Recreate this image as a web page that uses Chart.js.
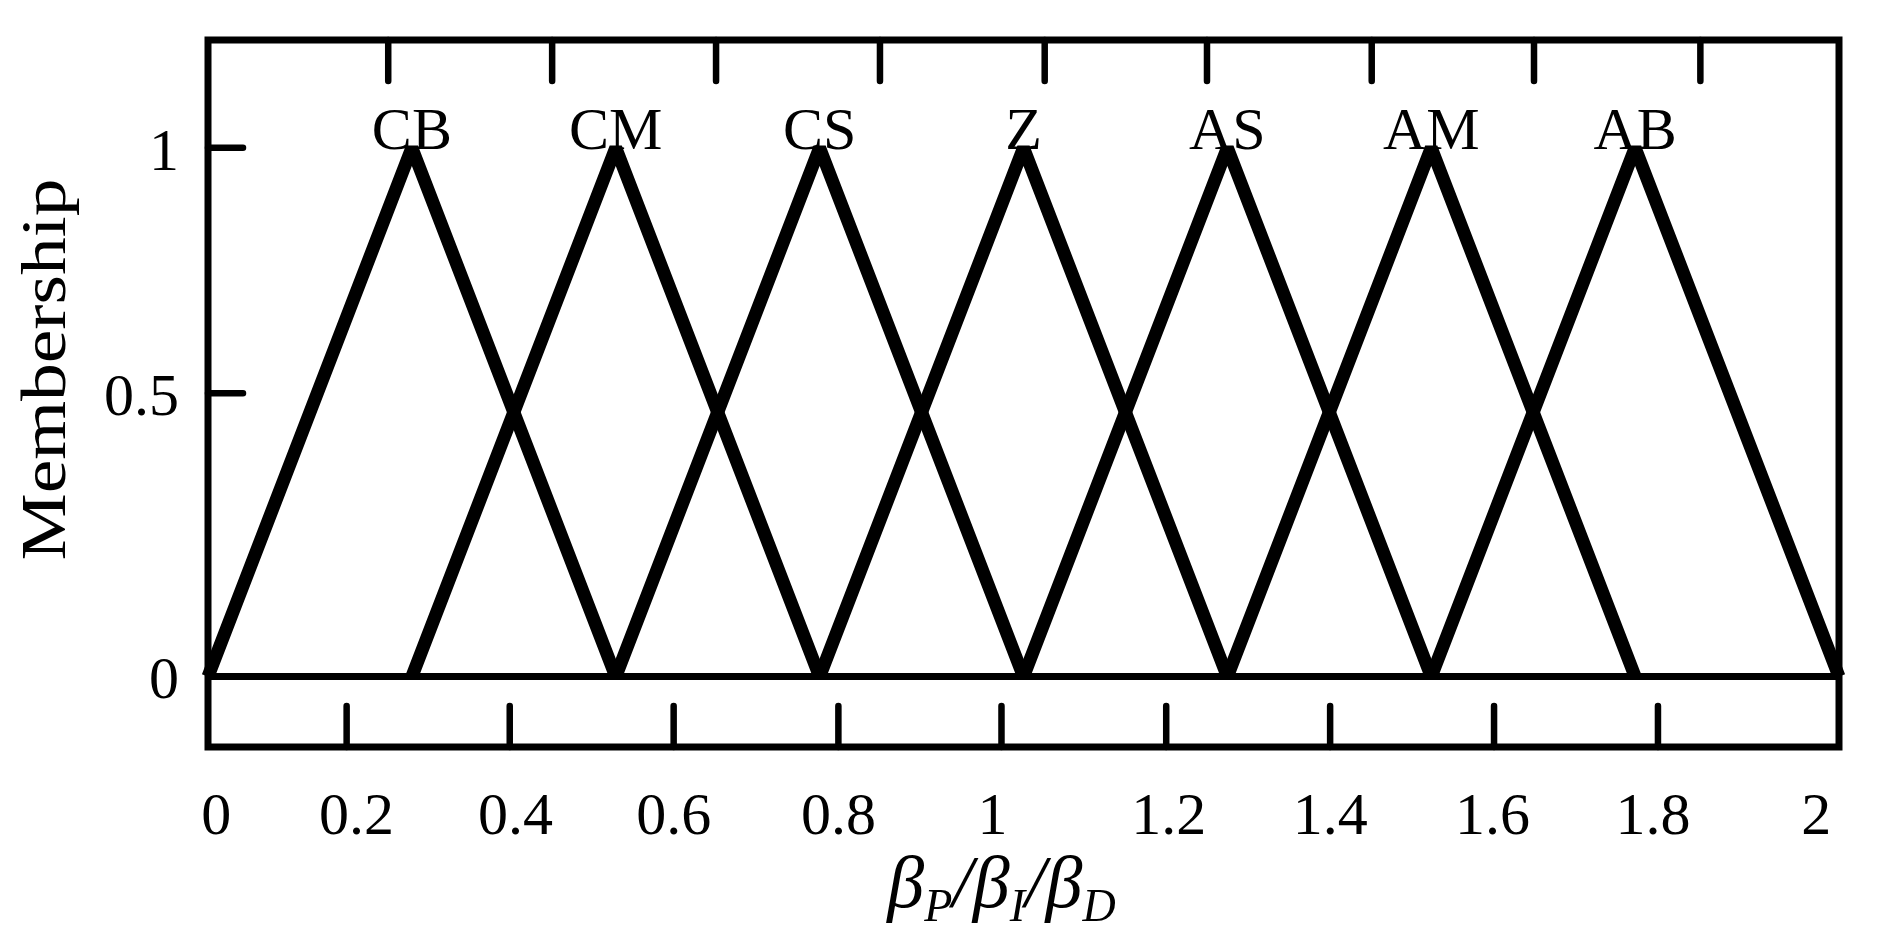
<!DOCTYPE html>
<html>
<head>
<meta charset="utf-8">
<script src="https://cdn.jsdelivr.net/npm/chart.js@4.4.0/dist/chart.umd.min.js"></script>
<style>
html,body{margin:0;padding:0;background:#fff;}
#c{display:block;}
</style>
</head>
<body>
<canvas id="c" width="1887" height="942" style="width:1887px;height:942px"></canvas>
<script>
// ---- data ----
const setNames  = ['CB', 'CM', 'CS', 'Z', 'AS', 'AM', 'AB'];
const setLeft   = [0.00, 0.25, 0.50, 0.75, 1.00, 1.25, 1.50];
const setPeak   = [0.25, 0.50, 0.75, 1.00, 1.25, 1.50, 1.75];
const setRight  = [0.50, 0.75, 1.00, 1.25, 1.50, 1.75, 2.00];
const peakMembership = [1, 1, 1, 1, 1, 1, 1];

const xRange = [0, 2];
const yRange = [-0.133, 1.204];

const xTickLabels      = ['0', '0.2', '0.4', '0.6', '0.8', '1', '1.2', '1.4', '1.6', '1.8', '2'];
const xLabelPositions  = [0.010, 0.182, 0.377, 0.571, 0.773, 0.962, 1.178, 1.376, 1.575, 1.772, 1.972];
const xBottomTickMarks = [0.170, 0.370, 0.571, 0.773, 0.973, 1.175, 1.376, 1.577, 1.778];
const xTopTickMarks    = [0.221, 0.422, 0.623, 0.824, 1.026, 1.225, 1.427, 1.626, 1.830];

const yTickLabels    = ['0', '0.5', '1'];
const yTickPositions = [0, 0.536, 1];
const yTickMarks     = [0.536, 1];

const yTitle = 'Membership';
const xTitleParts = [['β', 'P'], ['β', 'I'], ['β', 'D']];

// ---- chart ----
const SERIF = '"Liberation Serif", "Times New Roman", serif';

const datasets = setNames.map((name, i) => ({
  label: name,
  data: [
    { x: setLeft[i],  y: 0 },
    { x: setPeak[i],  y: peakMembership[i] },
    { x: setRight[i], y: 0 }
  ],
  showLine: true,
  borderColor: '#000',
  backgroundColor: '#000',
  borderWidth: 13,
  pointRadius: 0,
  pointHoverRadius: 0,
  fill: false,
  tension: 0,
  clip: false,
  borderJoinStyle: 'bevel',
  borderCapStyle: 'butt'
}));

const decorPlugin = {
  id: 'decor',
  afterDraw(chart) {
    const ctx = chart.ctx;
    const a = chart.chartArea;
    const xs = chart.scales.x, ys = chart.scales.y;
    ctx.save();
    // frame
    ctx.strokeStyle = '#000';
    ctx.lineWidth = 7;
    ctx.lineJoin = 'miter';
    ctx.strokeRect(a.left, a.top, a.right - a.left, a.bottom - a.top);
    // inward tick marks
    ctx.lineCap = 'round';
    ctx.lineWidth = 6.5;
    ctx.beginPath();
    xBottomTickMarks.forEach(v => {
      const px = xs.getPixelForValue(v);
      ctx.moveTo(px, a.bottom); ctx.lineTo(px, a.bottom - 41);
    });
    xTopTickMarks.forEach(v => {
      const px = xs.getPixelForValue(v);
      ctx.moveTo(px, a.top); ctx.lineTo(px, a.top + 41);
    });
    yTickMarks.forEach(v => {
      const py = ys.getPixelForValue(v);
      ctx.moveTo(a.left, py); ctx.lineTo(a.left + 35, py);
    });
    ctx.stroke();

    // set names above each peak
    ctx.fillStyle = '#000';
    ctx.font = '60px ' + SERIF;
    ctx.textAlign = 'center';
    ctx.textBaseline = 'alphabetic';
    setNames.forEach((n, i) => {
      ctx.fillText(n, xs.getPixelForValue(setPeak[i]), ys.getPixelForValue(peakMembership[i]) + 1);
    });

    // y title (rotated)
    ctx.save();
    ctx.translate(a.left - 143, (a.top + a.bottom) / 2 - 24);
    ctx.rotate(-Math.PI / 2);
    ctx.scale(1.2, 1);
    ctx.font = '63px ' + SERIF;
    ctx.textAlign = 'center';
    ctx.textBaseline = 'alphabetic';
    ctx.fillText(yTitle, 0, 0);
    ctx.restore();

    // x title with subscripts
    const bigFont = 'italic 74px ' + SERIF;
    const subFont = 'italic 46px ' + SERIF;
    const pieces = [];
    xTitleParts.forEach((p, i) => {
      pieces.push({ t: p[0], f: bigFont, dy: 0 });
      pieces.push({ t: p[1], f: subFont, dy: 14 });
      if (i < xTitleParts.length - 1) pieces.push({ t: '/', f: bigFont, dy: 0 });
    });
    let total = 0;
    pieces.forEach(p => { ctx.font = p.f; p.w = ctx.measureText(p.t).width; total += p.w; });
    let x = (a.left + a.right) / 2 - 22 - total / 2;
    const base = a.bottom + 160;
    ctx.textAlign = 'left';
    pieces.forEach(p => { ctx.font = p.f; ctx.fillText(p.t, x, base + p.dy); x += p.w; });
    ctx.restore();
  }
};

new Chart(document.getElementById('c'), {
  type: 'scatter',
  data: { datasets },
  options: {
    responsive: false,
    devicePixelRatio: 1,
    animation: false,
    events: [],
    layout: { padding: { top: 40, right: 48, left: 0, bottom: 0 } },
    plugins: { legend: { display: false }, tooltip: { enabled: false } },
    scales: {
      x: {
        type: 'linear', position: 'bottom', min: xRange[0], max: xRange[1],
        afterBuildTicks: s => { s.ticks = xLabelPositions.map(v => ({ value: v })); },
        afterFit: s => { s.height = 195; s.paddingLeft = 0; s.paddingRight = 0; },
        grid: { display: false, drawTicks: false },
        border: { display: false },
        ticks: {
          autoSkip: false, maxRotation: 0, minRotation: 0, padding: 35,
          color: '#000', font: { family: SERIF, size: 60 },
          callback: (v, i) => xTickLabels[i]
        }
      },
      y: {
        type: 'linear', position: 'left', min: yRange[0], max: yRange[1],
        afterBuildTicks: s => { s.ticks = yTickPositions.map(v => ({ value: v })); },
        afterFit: s => { s.width = 208; s.paddingTop = 0; s.paddingBottom = 0; },
        grid: {
          display: true, drawTicks: false, drawOnChartArea: true,
          color: c => (c.tick && c.tick.value === 0) ? '#000' : 'rgba(0,0,0,0)',
          lineWidth: 7
        },
        border: { display: false },
        ticks: {
          padding: 29, labelOffset: 6,
          color: '#000', font: { family: SERIF, size: 60 },
          callback: (v, i) => yTickLabels[i]
        }
      }
    }
  },
  plugins: [decorPlugin]
});
</script>
</body>
</html>
